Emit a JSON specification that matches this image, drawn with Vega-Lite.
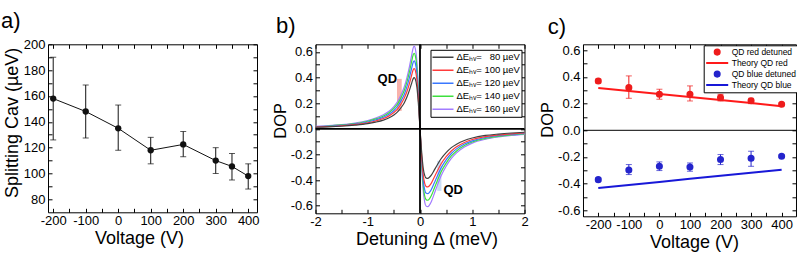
{
  "$schema": "https://vega.github.io/schema/vega-lite/v6.json",
  "padding": {"left": 0, "top": 9.3, "right": 2, "bottom": 0},
  "spacing": 58.5,
  "bounds": "flush",
  "resolve": {"scale": {"color": "independent", "fill": "independent", "stroke": "independent", "shape": "independent"}},
  "datasets": {
    "splitting": [
      {"v": -200, "s": 158, "lo": 126, "hi": 190},
      {"v": -100, "s": 148, "lo": 127.5, "hi": 168.5},
      {"v": 0, "s": 135, "lo": 118, "hi": 153},
      {"v": 100, "s": 118, "lo": 107.5, "hi": 128},
      {"v": 200, "s": 122.5, "lo": 113, "hi": 132.5},
      {"v": 300, "s": 110, "lo": 100, "hi": 120},
      {"v": 350, "s": 105.5, "lo": 95, "hi": 115.5},
      {"v": 400, "s": 98, "lo": 88, "hi": 107.5}
    ],
    "curves": [
      {"d": -2, "80": 0.012, "100": 0.014, "120": 0.016, "140": 0.018, "160": 0.019},
      {"d": -1.75, "80": 0.015, "100": 0.018, "120": 0.02, "140": 0.022, "160": 0.025},
      {"d": -1.5, "80": 0.02, "100": 0.024, "120": 0.027, "140": 0.03, "160": 0.032},
      {"d": -1.25, "80": 0.028, "100": 0.033, "120": 0.037, "140": 0.041, "160": 0.045},
      {"d": -1, "80": 0.04, "100": 0.047, "120": 0.053, "140": 0.059, "160": 0.065},
      {"d": -0.85, "80": 0.052, "100": 0.061, "120": 0.069, "140": 0.077, "160": 0.084},
      {"d": -0.7, "80": 0.068, "100": 0.08, "120": 0.09, "140": 0.1, "160": 0.11},
      {"d": -0.6, "80": 0.084, "100": 0.099, "120": 0.111, "140": 0.124, "160": 0.135},
      {"d": -0.5, "80": 0.108, "100": 0.127, "120": 0.143, "140": 0.159, "160": 0.174},
      {"d": -0.42, "80": 0.136, "100": 0.16, "120": 0.18, "140": 0.201, "160": 0.219},
      {"d": -0.35, "80": 0.172, "100": 0.202, "120": 0.228, "140": 0.254, "160": 0.277},
      {"d": -0.3, "80": 0.204, "100": 0.24, "120": 0.27, "140": 0.301, "160": 0.329},
      {"d": -0.25, "80": 0.248, "100": 0.291, "120": 0.329, "140": 0.366, "160": 0.4},
      {"d": -0.2, "80": 0.304, "100": 0.357, "120": 0.403, "140": 0.448, "160": 0.49},
      {"d": -0.16, "80": 0.356, "100": 0.418, "120": 0.472, "140": 0.525, "160": 0.574},
      {"d": -0.13, "80": 0.392, "100": 0.461, "120": 0.519, "140": 0.578, "160": 0.632},
      {"d": -0.11, "80": 0.4, "100": 0.47, "120": 0.53, "140": 0.59, "160": 0.645},
      {"d": -0.09, "80": 0.388, "100": 0.456, "120": 0.514, "140": 0.572, "160": 0.626},
      {"d": -0.06, "80": 0.328, "100": 0.385, "120": 0.435, "140": 0.484, "160": 0.529},
      {"d": -0.03, "80": 0.192, "100": 0.226, "120": 0.254, "140": 0.283, "160": 0.31},
      {"d": 0, "80": 0, "100": 0, "120": 0, "140": 0, "160": 0},
      {"d": 0.03, "80": -0.174, "100": -0.204, "120": -0.228, "140": -0.251, "160": -0.274},
      {"d": 0.06, "80": -0.302, "100": -0.354, "120": -0.395, "140": -0.435, "160": -0.474},
      {"d": 0.09, "80": -0.364, "100": -0.427, "120": -0.477, "140": -0.525, "160": -0.572},
      {"d": 0.12, "80": -0.385, "100": -0.452, "120": -0.504, "140": -0.555, "160": -0.605},
      {"d": 0.15, "80": -0.387, "100": -0.454, "120": -0.507, "140": -0.558, "160": -0.608},
      {"d": 0.18, "80": -0.379, "100": -0.445, "120": -0.497, "140": -0.547, "160": -0.596},
      {"d": 0.22, "80": -0.36, "100": -0.422, "120": -0.472, "140": -0.519, "160": -0.565},
      {"d": 0.27, "80": -0.325, "100": -0.381, "120": -0.426, "140": -0.469, "160": -0.511},
      {"d": 0.33, "80": -0.283, "100": -0.331, "120": -0.37, "140": -0.407, "160": -0.444},
      {"d": 0.4, "80": -0.236, "100": -0.277, "120": -0.309, "140": -0.34, "160": -0.371},
      {"d": 0.5, "80": -0.186, "100": -0.218, "120": -0.243, "140": -0.268, "160": -0.292},
      {"d": 0.6, "80": -0.147, "100": -0.173, "120": -0.193, "140": -0.212, "160": -0.231},
      {"d": 0.7, "80": -0.12, "100": -0.141, "120": -0.157, "140": -0.173, "160": -0.188},
      {"d": 0.85, "80": -0.091, "100": -0.107, "120": -0.119, "140": -0.131, "160": -0.143},
      {"d": 1, "80": -0.072, "100": -0.084, "120": -0.094, "140": -0.103, "160": -0.112},
      {"d": 1.25, "80": -0.052, "100": -0.061, "120": -0.068, "140": -0.075, "160": -0.082},
      {"d": 1.5, "80": -0.041, "100": -0.048, "120": -0.053, "140": -0.059, "160": -0.064},
      {"d": 1.75, "80": -0.033, "100": -0.039, "120": -0.043, "140": -0.047, "160": -0.052},
      {"d": 2, "80": -0.027, "100": -0.032, "120": -0.035, "140": -0.039, "160": -0.043}
    ],
    "dop": [
      {"v": -200, "p": 0.37, "lo": 0.355, "hi": 0.385, "series": "QD red detuned"},
      {"v": -100, "p": 0.32, "lo": 0.24, "hi": 0.408, "series": "QD red detuned"},
      {"v": 0, "p": 0.27, "lo": 0.233, "hi": 0.308, "series": "QD red detuned"},
      {"v": 100, "p": 0.27, "lo": 0.22, "hi": 0.333, "series": "QD red detuned"},
      {"v": 200, "p": 0.245, "lo": 0.22, "hi": 0.27, "series": "QD red detuned"},
      {"v": 300, "p": 0.222, "lo": 0.2, "hi": 0.24, "series": "QD red detuned"},
      {"v": 400, "p": 0.195, "lo": 0.185, "hi": 0.205, "series": "QD red detuned"},
      {"v": -200, "p": -0.37, "lo": -0.382, "hi": -0.358, "series": "QD blue detuned"},
      {"v": -100, "p": -0.298, "lo": -0.332, "hi": -0.257, "series": "QD blue detuned"},
      {"v": 0, "p": -0.27, "lo": -0.302, "hi": -0.237, "series": "QD blue detuned"},
      {"v": 100, "p": -0.275, "lo": -0.307, "hi": -0.245, "series": "QD blue detuned"},
      {"v": 200, "p": -0.219, "lo": -0.257, "hi": -0.182, "series": "QD blue detuned"},
      {"v": 300, "p": -0.21, "lo": -0.27, "hi": -0.157, "series": "QD blue detuned"},
      {"v": 400, "p": -0.194, "lo": -0.204, "hi": -0.184, "series": "QD blue detuned"}
    ],
    "theory": [
      {"v": -200, "p": 0.318, "series": "Theory QD red"},
      {"v": -100, "p": 0.295, "series": "Theory QD red"},
      {"v": 0, "p": 0.272, "series": "Theory QD red"},
      {"v": 100, "p": 0.25, "series": "Theory QD red"},
      {"v": 200, "p": 0.227, "series": "Theory QD red"},
      {"v": 300, "p": 0.204, "series": "Theory QD red"},
      {"v": 400, "p": 0.18, "series": "Theory QD red"},
      {"v": -200, "p": -0.433, "series": "Theory QD blue"},
      {"v": -100, "p": -0.41, "series": "Theory QD blue"},
      {"v": 0, "p": -0.387, "series": "Theory QD blue"},
      {"v": 100, "p": -0.364, "series": "Theory QD blue"},
      {"v": 200, "p": -0.341, "series": "Theory QD blue"},
      {"v": 300, "p": -0.318, "series": "Theory QD blue"},
      {"v": 400, "p": -0.295, "series": "Theory QD blue"}
    ]
  },
  "hconcat": [
    {
      "width": 209,
      "height": 168,
      "title": {"text": "a)", "dx": -47},
      "data": {"name": "splitting"},
      "layer": [
        {
          "mark": {"type": "rule", "color": "#111", "strokeWidth": 1},
          "encoding": {
            "x": {"field": "v", "type": "quantitative", "scale": {"domain": [-216, 427], "nice": false, "zero": false},
              "axis": {"orient": "top", "labels": false, "title": null, "values": [-200, -150, -100, -50, 0, 50, 100, 150, 200, 250, 300, 350, 400]}},
            "y": {"field": "lo", "type": "quantitative", "scale": {"domain": [70, 200], "nice": false, "zero": false},
              "axis": {"orient": "right", "labels": false, "title": null, "values": [80, 90, 100, 110, 120, 130, 140, 150, 160, 170, 180, 190, 200]}},
            "y2": {"field": "hi"}
          }
        },
        {
          "mark": {"type": "tick", "orient": "horizontal", "size": 6, "thickness": 1, "color": "#111"},
          "encoding": {
            "x": {"field": "v", "type": "quantitative", "axis": null},
            "y": {"field": "lo", "type": "quantitative", "axis": null}
          }
        },
        {
          "mark": {"type": "tick", "orient": "horizontal", "size": 6, "thickness": 1, "color": "#111"},
          "encoding": {
            "x": {"field": "v", "type": "quantitative", "axis": null},
            "y": {"field": "hi", "type": "quantitative", "axis": null}
          }
        },
        {
          "mark": {"type": "line", "color": "#111", "strokeWidth": 1},
          "encoding": {
            "x": {"field": "v", "type": "quantitative",
              "axis": {"orient": "bottom", "title": "Voltage (V)", "titleX": 91, "values": [-200, -150, -100, -50, 0, 50, 100, 150, 200, 250, 300, 350, 400],
                "labelExpr": "datum.value % 100 == 0 ? (datum.value < 0 ? '-' : '') + abs(datum.value) : ''"}},
            "y": {"field": "s", "type": "quantitative",
              "axis": {"orient": "left", "title": "Splitting Cav (µeV)", "titleY": 78, "values": [80, 90, 100, 110, 120, 130, 140, 150, 160, 170, 180, 190, 200],
                "labelExpr": "datum.value % 20 == 0 ? '' + datum.value : ''"}}
          }
        },
        {
          "mark": {"type": "point", "filled": true, "size": 40, "color": "#111", "opacity": 1},
          "encoding": {
            "x": {"field": "v", "type": "quantitative", "axis": null},
            "y": {"field": "s", "type": "quantitative", "axis": null}
          }
        }
      ]
    },
    {
      "width": 209,
      "height": 169,
      "title": {"text": "b)", "dx": -39.5},
      "layer": [
        {
          "data": {"values": [{"a": -0.44, "b": -0.35, "c": 0.14, "e": 0.39}]},
          "mark": {"type": "rect", "color": "#f6a49c", "opacity": 0.85},
          "encoding": {
            "x": {"field": "a", "type": "quantitative", "axis": null}, "x2": {"field": "b"},
            "y": {"field": "c", "type": "quantitative", "axis": null}, "y2": {"field": "e"}
          }
        },
        {
          "data": {"values": [{"a": 0.33, "b": 0.41, "c": -0.485, "e": -0.25}]},
          "mark": {"type": "rect", "color": "#c5daf5", "opacity": 0.9},
          "encoding": {
            "x": {"field": "a", "type": "quantitative", "axis": null}, "x2": {"field": "b"},
            "y": {"field": "c", "type": "quantitative", "axis": null}, "y2": {"field": "e"}
          }
        },
        {
          "data": {"name": "curves"},
          "transform": [{"fold": ["160", "140", "120", "100", "80"], "as": ["curve", "dop"]}],
          "mark": {"type": "line", "strokeWidth": 1.2, "interpolate": "monotone"},
          "encoding": {
            "x": {"field": "d", "type": "quantitative", "scale": {"domain": [-2, 2], "nice": false, "zero": false},
              "axis": {"orient": "bottom", "title": "Detuning Δ (meV)", "titleX": 111, "values": [-2, -1.5, -1, -0.5, 0, 0.5, 1, 1.5, 2],
                "labelExpr": "datum.value % 1 == 0 ? (datum.value < 0 ? '-' : '') + abs(datum.value) : ''"}},
            "y": {"field": "dop", "type": "quantitative", "scale": {"domain": [-0.66, 0.66], "nice": false, "zero": false},
              "axis": {"orient": "left", "title": "DOP", "titleFontSize": 16.5, "titleY": 76, "values": [-0.6, -0.5, -0.4, -0.3, -0.2, -0.1, 0, 0.1, 0.2, 0.3, 0.4, 0.5, 0.6],
                "labelExpr": "abs(round(datum.value * 10)) % 2 == 0 ? (datum.value < -0.001 ? '-' : '') + format(abs(datum.value), '.1f') : ''"}},
            "color": {"field": "curve", "type": "nominal",
              "scale": {"domain": ["80", "100", "120", "140", "160"], "range": ["#404040", "#ff3b3b", "#3a78ff", "#3ee03e", "#a27cff"]},
              "legend": {"orient": "none", "legendX": 115, "legendY": 5.5, "title": null, "strokeColor": "#000", "fillColor": "#fff", "padding": 1,
                "symbolType": "stroke", "symbolSize": 440, "symbolStrokeWidth": 1.5, "clipHeight": 13, "rowPadding": 0,
                "labelFontSize": 9.5, "labelOffset": 2, "labelColor": "#000",
                "labelExpr": "'ΔEₕᵥ= ' + (datum.label == '80' ? '\u2007' : '') + datum.label + ' µeV\u2002'"}}
          }
        },
        {
          "data": {"values": [{}]},
          "mark": {"type": "rule", "color": "#000", "strokeWidth": 1.8},
          "encoding": {
            "y": {"datum": 0, "type": "quantitative",
              "axis": {"orient": "right", "labels": false, "title": null, "values": [-0.6, -0.5, -0.4, -0.3, -0.2, -0.1, 0, 0.1, 0.2, 0.3, 0.4, 0.5, 0.6]}}
          }
        },
        {
          "data": {"values": [{}]},
          "mark": {"type": "rule", "color": "#000", "strokeWidth": 1.8},
          "encoding": {
            "x": {"datum": 0, "type": "quantitative",
              "axis": {"orient": "top", "labels": false, "title": null, "values": [-2, -1.5, -1, -0.5, 0, 0.5, 1, 1.5, 2]}}
          }
        },
        {
          "data": {"values": [{"x": -0.44, "y": 0.387, "t": "QD"}]},
          "mark": {"type": "text", "align": "right", "baseline": "middle", "fontSize": 13, "fontWeight": "bold", "color": "#000"},
          "encoding": {
            "x": {"field": "x", "type": "quantitative", "axis": null},
            "y": {"field": "y", "type": "quantitative", "axis": null},
            "text": {"field": "t"}
          }
        },
        {
          "data": {"values": [{"x": 0.45, "y": -0.478, "t": "QD"}]},
          "mark": {"type": "text", "align": "left", "baseline": "middle", "fontSize": 13, "fontWeight": "bold", "color": "#000"},
          "encoding": {
            "x": {"field": "x", "type": "quantitative", "axis": null},
            "y": {"field": "y", "type": "quantitative", "axis": null},
            "text": {"field": "t"}
          }
        }
      ]
    },
    {
      "width": 213,
      "height": 172,
      "title": {"text": "c)", "dx": -35.3},
      "layer": [
        {
          "data": {"values": [{}]},
          "mark": {"type": "rule", "color": "#000", "strokeWidth": 1},
          "encoding": {
            "y": {"datum": 0, "type": "quantitative", "scale": {"domain": [-0.645, 0.645], "nice": false, "zero": false},
              "axis": {"orient": "right", "labels": false, "title": null, "values": [-0.6, -0.5, -0.4, -0.3, -0.2, -0.1, 0, 0.1, 0.2, 0.3, 0.4, 0.5, 0.6]}}
          }
        },
        {
          "data": {"name": "theory"},
          "mark": {"type": "line", "strokeWidth": 2},
          "encoding": {
            "x": {"field": "v", "type": "quantitative", "axis": null},
            "y": {"field": "p", "type": "quantitative", "axis": null},
            "stroke": {"field": "series", "type": "nominal",
              "scale": {"domain": ["QD red detuned", "Theory QD red", "QD blue detuned", "Theory QD blue"], "range": ["#ee1c1c", "#ff1a1a", "#2424cc", "#1818d8"]},
              "legend": {"orient": "none", "legendX": 120.7, "legendY": 1, "title": null, "strokeColor": "#000", "fillColor": "#fff", "padding": 1.5,
                "symbolSize": 484, "symbolStrokeWidth": 2, "clipHeight": 10.6, "rowPadding": 0, "labelFontSize": 8.5, "labelOffset": 2.5, "labelColor": "#000"}}
          }
        },
        {
          "data": {"name": "dop"},
          "mark": {"type": "rule", "strokeWidth": 1},
          "encoding": {
            "x": {"field": "v", "type": "quantitative", "scale": {"domain": [-250, 447], "nice": false, "zero": false},
              "axis": {"orient": "top", "labels": false, "title": null, "values": [-250, -200, -150, -100, -50, 0, 50, 100, 150, 200, 250, 300, 350, 400]}},
            "y": {"field": "lo", "type": "quantitative", "axis": null},
            "y2": {"field": "hi"},
            "stroke": {"field": "series", "type": "nominal",
              "scale": {"domain": ["QD red detuned", "Theory QD red", "QD blue detuned", "Theory QD blue"], "range": ["#ee1c1c", "#ff1a1a", "#2424cc", "#1818d8"]},
              "legend": {"orient": "none", "legendX": 120.7, "legendY": 1, "title": null, "strokeColor": "#000", "fillColor": "#fff", "padding": 1.5,
                "symbolSize": 484, "symbolStrokeWidth": 2, "clipHeight": 10.6, "rowPadding": 0, "labelFontSize": 8.5, "labelOffset": 2.5, "labelColor": "#000"}}
          }
        },
        {
          "data": {"name": "dop"},
          "mark": {"type": "tick", "orient": "horizontal", "size": 6, "thickness": 1},
          "encoding": {
            "x": {"field": "v", "type": "quantitative", "axis": null},
            "y": {"field": "lo", "type": "quantitative", "axis": null},
            "color": {"field": "series", "type": "nominal", "legend": null,
              "scale": {"domain": ["QD red detuned", "QD blue detuned"], "range": ["#ee1c1c", "#2424cc"]}}
          }
        },
        {
          "data": {"name": "dop"},
          "mark": {"type": "tick", "orient": "horizontal", "size": 6, "thickness": 1},
          "encoding": {
            "x": {"field": "v", "type": "quantitative", "axis": null},
            "y": {"field": "hi", "type": "quantitative", "axis": null},
            "color": {"field": "series", "type": "nominal", "legend": null,
              "scale": {"domain": ["QD red detuned", "QD blue detuned"], "range": ["#ee1c1c", "#2424cc"]}}
          }
        },
        {
          "data": {"name": "dop"},
          "mark": {"type": "point", "filled": true, "size": 484, "strokeWidth": 2, "opacity": 1},
          "encoding": {
            "x": {"field": "v", "type": "quantitative",
              "axis": {"orient": "bottom", "title": "Voltage (V)", "titleX": 111, "values": [-250, -200, -150, -100, -50, 0, 50, 100, 150, 200, 250, 300, 350, 400],
                "labelExpr": "datum.value % 100 == 0 ? (datum.value < 0 ? '-' : '') + abs(datum.value) : ''"}},
            "y": {"field": "p", "type": "quantitative",
              "axis": {"orient": "left", "title": "DOP", "titleFontSize": 16.5, "titleY": 75, "values": [-0.6, -0.5, -0.4, -0.3, -0.2, -0.1, 0, 0.1, 0.2, 0.3, 0.4, 0.5, 0.6],
                "labelExpr": "abs(round(datum.value * 10)) % 2 == 0 ? (datum.value < -0.001 ? '-' : '') + format(abs(datum.value), '.1f') : ''"}},
            "fill": {"field": "series", "type": "nominal",
              "scale": {"domain": ["QD red detuned", "Theory QD red", "QD blue detuned", "Theory QD blue"], "range": ["#ee1c1c", "#ff1a1a", "#2424cc", "#1818d8"]},
              "legend": {"orient": "none", "legendX": 120.7, "legendY": 1, "title": null, "strokeColor": "#000", "fillColor": "#fff", "padding": 1.5,
                "symbolSize": 484, "symbolStrokeWidth": 2, "clipHeight": 10.6, "rowPadding": 0, "labelFontSize": 8.5, "labelOffset": 2.5, "labelColor": "#000"}},
            "stroke": {"field": "series", "type": "nominal",
              "scale": {"domain": ["QD red detuned", "Theory QD red", "QD blue detuned", "Theory QD blue"], "range": ["#ee1c1c", "#ff1a1a", "#2424cc", "#1818d8"]},
              "legend": {"orient": "none", "legendX": 120.7, "legendY": 1, "title": null, "strokeColor": "#000", "fillColor": "#fff", "padding": 1.5,
                "symbolSize": 484, "symbolStrokeWidth": 2, "clipHeight": 10.6, "rowPadding": 0, "labelFontSize": 8.5, "labelOffset": 2.5, "labelColor": "#000"}},
            "shape": {"field": "series", "type": "nominal",
              "scale": {"domain": ["QD red detuned", "Theory QD red", "QD blue detuned", "Theory QD blue"],
                "range": ["M-0.23,0A0.23,0.23,0,1,0,0.23,0A0.23,0.23,0,1,0,-0.23,0Z", "stroke", "M-0.23,0A0.23,0.23,0,1,0,0.23,0A0.23,0.23,0,1,0,-0.23,0Z", "stroke"]},
              "legend": {"orient": "none", "legendX": 120.7, "legendY": 1, "title": null, "strokeColor": "#000", "fillColor": "#fff", "padding": 1.5,
                "symbolSize": 484, "symbolStrokeWidth": 2, "clipHeight": 10.6, "rowPadding": 0, "labelFontSize": 8.5, "labelOffset": 2.5, "labelColor": "#000"}}
          }
        }
      ]
    }
  ],
  "config": {
    "font": "Liberation Sans",
    "view": {"stroke": "#000", "strokeWidth": 1},
    "title": {"anchor": "start", "frame": "group", "fontSize": 22, "fontWeight": "normal", "baseline": "alphabetic", "offset": 5, "color": "#000"},
    "axis": {
      "domain": false, "grid": false, "ticks": true, "tickSize": -4, "tickColor": "#000", "tickWidth": 1,
      "labelFontSize": 13, "labelColor": "#000", "labelPadding": 6.5, "labelFlush": false, "labelOverlap": false,
      "titleFontSize": 18, "titleFontWeight": "normal", "titleColor": "#000", "titlePadding": 2
    },
    "axisY": {"labelPadding": 7}
  }
}
